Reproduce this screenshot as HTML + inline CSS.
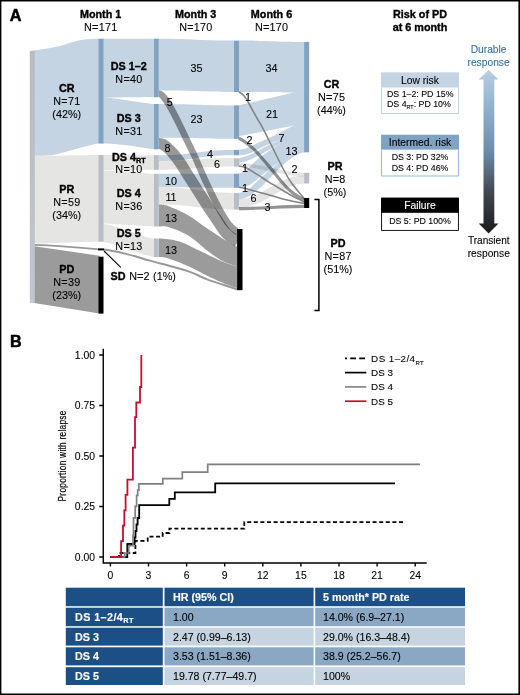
<!DOCTYPE html>
<html lang="en">
<head>
<meta charset="utf-8">
<title>Figure: response over time and risk of PD</title>
<style>
html,body{margin:0;padding:0;background:#fff;}
body{width:520px;height:695px;overflow:hidden;}
svg{display:block;font-family:"Liberation Sans",sans-serif;}
</style>
</head>
<body>
<svg width="520" height="695" viewBox="0 0 520 695">
<rect x="0" y="0" width="520" height="695" fill="#fff"/>
<defs><filter id="soft" x="0" y="0" width="520" height="695" filterUnits="userSpaceOnUse"><feGaussianBlur stdDeviation="0.32"/></filter></defs><g filter="url(#soft)">
<g id="sankey">
<path d="M30.00,50.90 C33.00,50.57 36.07,50.23 39.20,49.80 C42.33,49.37 45.58,48.88 48.80,48.30 C52.02,47.72 55.30,47.08 58.50,46.30 C61.70,45.52 64.80,44.53 68.00,43.60 C71.20,42.67 74.48,41.43 77.70,40.70 C80.92,39.97 83.75,39.53 87.30,39.20 C90.85,38.87 95.67,38.70 99.00,38.70 L99.00,143.60 C95.67,143.60 90.85,145.18 87.30,146.00 C83.75,146.82 80.92,147.62 77.70,148.50 C74.48,149.38 71.20,150.42 68.00,151.30 C64.80,152.18 61.70,153.10 58.50,153.80 C55.30,154.50 53.55,155.13 48.80,155.50 C44.05,155.87 33.00,155.67 30.00,156.00 Z" fill="#c4d4e3"/>
<path d="M32.60,156.00 C52.67,156.00 79.43,155.00 99.50,155.00 L99.50,241.70 C79.43,241.70 52.67,243.60 32.60,243.60 Z" fill="#e5e5e4"/>
<path d="M32.6,246.0 L99.5,255.8 V313.6 L32.6,302.7 Z" fill="#9b9b9b"/>
<path d="M34.6,244.8 C60,245.5 80,247.5 98.5,249.3" fill="none" stroke="#989898" stroke-width="1.7"/>
<path d="M102.50,38.70 C110.38,38.70 147.12,38.70 155.00,38.70 L155.00,97.00 C147.12,97.00 110.38,97.60 102.50,97.60 Z" fill="#c4d4e3"/>
<path d="M102.50,97.30 C110.38,97.30 147.12,104.00 155.00,104.00 L155.00,149.30 C149.75,149.30 123.50,143.60 102.50,143.60 Z" fill="#c4d4e3"/>
<path d="M102.50,155.00 C110.38,155.00 147.12,155.20 155.00,155.20 L155.00,169.80 C147.12,169.80 110.38,170.40 102.50,170.40 Z" fill="#e5e5e4"/>
<path d="M102.50,170.40 C110.38,170.40 147.12,173.80 155.00,173.80 L155.00,226.50 C147.12,226.50 110.38,223.50 102.50,223.50 Z" fill="#e5e5e4"/>
<path d="M102.50,223.70 C110.38,223.70 147.12,238.50 155.00,238.50 L155.00,257.00 C147.12,257.00 110.38,241.70 102.50,241.70 Z" fill="#e5e5e4"/>
<path d="M158.80,38.70 C196.40,38.70 196.40,40.60 234.00,40.60 L234.00,92.00 C196.40,92.00 196.40,90.60 158.80,90.60 Z" fill="#c4d4e3"/>
<path d="M158.80,104.00 C196.40,104.00 196.40,105.40 234.00,105.40 L234.00,138.80 C196.40,138.80 196.40,137.80 158.80,137.80 Z" fill="#c4d4e3"/>
<path d="M158.80,155.20 C196.40,155.20 196.40,149.90 234.00,149.90 L234.00,155.30 C196.40,155.30 196.40,161.00 158.80,161.00 Z" fill="#c4d4e3"/>
<path d="M158.80,161.00 C196.40,161.00 196.40,158.30 234.00,158.30 L234.00,166.60 C196.40,166.60 196.40,169.80 158.80,169.80 Z" fill="#e5e5e4"/>
<path d="M158.80,173.80 C196.40,173.80 196.40,173.70 234.00,173.70 L234.00,187.80 C196.40,187.80 196.40,187.30 158.80,187.30 Z" fill="#c4d4e3"/>
<path d="M158.80,187.30 C196.40,187.30 196.40,192.90 234.00,192.90 L234.00,209.60 C196.40,209.60 196.40,204.60 158.80,204.60 Z" fill="#e5e5e4"/>
<defs><clipPath id="c34"><rect x="239.0" y="30" width="66.10000000000002" height="200"/></clipPath><clipPath id="c23"><rect x="158.8" y="30" width="79.29999999999998" height="280"/></clipPath></defs>
<path d="M239.00,40.60 C271.55,40.60 271.55,41.90 304.10,41.90 L304.10,92.50 C271.55,92.50 271.55,92.00 239.00,92.00 Z" fill="#c4d4e3"/>
<g clip-path="url(#c34)">
<path d="M238.0,105.4 L295,92.2 H304.1 V125.2 H295.5 L239.0,136.2 H238.0 Z" fill="#c4d4e3"/>
<path d="M238.00,149.70 C240.00,149.70 243.13,149.28 245.70,148.50 C248.27,147.72 250.83,146.17 253.40,145.00 C255.97,143.83 258.53,142.67 261.10,141.50 C263.67,140.33 266.23,139.22 268.80,138.00 C271.37,136.78 273.93,135.48 276.50,134.20 C279.07,132.92 281.95,131.42 284.20,130.30 C286.45,129.18 288.08,128.38 290.00,127.50 C291.92,126.62 293.87,125.43 295.70,125.00 C297.53,124.57 299.23,124.93 301.00,124.90 L301.00,134.00 C296.53,135.43 291.68,137.10 287.60,138.30 C283.52,139.50 279.63,140.22 276.50,141.20 C273.37,142.18 271.37,143.12 268.80,144.20 C266.23,145.28 263.67,146.48 261.10,147.70 C258.53,148.92 255.97,150.35 253.40,151.50 C250.83,152.65 248.27,153.95 245.70,154.60 C243.13,155.25 240.00,155.40 238.00,155.40 Z" fill="#c4d4e3"/>
<path d="M238.00,158.10 C240.00,158.10 243.13,157.42 245.70,156.60 C248.27,155.78 250.83,154.48 253.40,153.20 C255.97,151.92 258.53,150.27 261.10,148.90 C263.67,147.53 266.23,146.25 268.80,145.00 C271.37,143.75 273.37,142.68 276.50,141.40 C279.63,140.12 283.52,138.78 287.60,137.30 C291.68,135.82 296.53,134.10 301.00,132.50 L301.00,137.50 C296.53,138.87 291.68,140.20 287.60,141.60 C283.52,143.00 279.63,144.50 276.50,145.90 C273.37,147.30 271.37,148.62 268.80,150.00 C266.23,151.38 263.67,152.85 261.10,154.20 C258.53,155.55 255.97,156.88 253.40,158.10 C250.83,159.32 248.27,160.73 245.70,161.50 C243.13,162.27 240.00,162.70 238.00,162.70 Z" fill="#c4d4e3"/>
<path d="M238.00,173.70 C240.00,173.70 243.13,172.35 245.70,170.60 C248.27,168.85 250.83,165.53 253.40,163.20 C255.97,160.87 258.53,158.63 261.10,156.60 C263.67,154.57 266.23,152.73 268.80,151.00 C271.37,149.27 273.37,147.98 276.50,146.20 C279.63,144.42 283.52,142.08 287.60,140.30 C291.68,138.52 296.53,137.10 301.00,135.50 L301.00,151.00 C298.00,152.50 295.00,154.00 292.00,155.50 C289.00,157.00 285.60,158.58 283.00,160.00 C280.40,161.42 278.63,162.47 276.40,164.00 C274.17,165.53 271.85,167.43 269.60,169.20 C267.35,170.97 265.13,172.80 262.90,174.60 C260.67,176.40 258.43,178.27 256.20,180.00 C253.97,181.73 251.37,183.92 249.50,185.00 C247.63,186.08 246.92,186.12 245.00,186.50 C243.08,186.88 240.00,187.30 238.00,187.30 Z" fill="#c4d4e3"/>
<path d="M238.00,192.90 C240.00,192.90 243.08,191.95 245.00,191.20 C246.92,190.45 247.63,189.90 249.50,188.40 C251.37,186.90 253.97,184.27 256.20,182.20 C258.43,180.13 260.67,178.00 262.90,176.00 C265.13,174.00 267.35,172.13 269.60,170.20 C271.85,168.27 274.17,166.27 276.40,164.40 C278.63,162.53 280.40,160.82 283.00,159.00 C285.60,157.18 289.00,155.17 292.00,153.50 C295.00,151.83 298.00,150.50 301.00,149.00 L305.00,152.30 C303.67,152.53 302.92,152.25 301.00,153.00 C299.08,153.75 296.17,155.08 293.50,156.80 C290.83,158.52 287.55,161.18 285.00,163.30 C282.45,165.42 280.62,167.13 278.20,169.50 C275.78,171.87 273.07,174.85 270.50,177.50 C267.93,180.15 265.38,182.98 262.80,185.40 C260.22,187.82 257.57,190.08 255.00,192.00 C252.43,193.92 250.23,195.70 247.40,196.90 C244.57,198.10 240.00,199.20 238.00,199.20 Z" fill="#c4d4e3"/>
<rect x="295.50" y="92.00" width="9.50" height="60.30" fill="#c4d4e3"/>
<path d="M239.00,164.70 C258.53,164.70 284.57,174.60 304.10,174.60" fill="none" stroke="#000" stroke-width="3.8" stroke-opacity="0.1"/>
<path d="M239.00,203.30 C265.04,203.30 278.06,179.60 304.10,179.60" fill="none" stroke="#000" stroke-width="8.4" stroke-opacity="0.1"/>
<path d="M239.00,208.60 C258.53,208.60 284.57,206.40 304.10,206.40" fill="none" stroke="#000" stroke-width="3.1" stroke-opacity="0.42"/>
</g>
<g clip-path="url(#c23)">
<path d="M158.80,204.60 C162.80,204.60 164.25,204.70 169.20,206.50 C174.15,208.30 182.08,211.68 188.50,215.40 C194.92,219.12 201.30,224.48 207.70,228.80 C214.10,233.12 221.93,238.27 226.90,241.30 C231.87,244.33 233.97,245.10 237.50,247.00 L237.5,266.6 237.50,266.60 C232.67,264.83 227.97,263.90 223.00,261.30 C218.03,258.70 213.45,255.28 207.70,251.00 C201.95,246.72 194.92,239.57 188.50,235.60 C182.08,231.63 174.15,228.72 169.20,227.20 C164.25,225.68 162.80,226.50 158.80,226.50 Z" fill="#9b9b9b"/>
<path d="M158.80,238.50 C163.47,238.50 172.27,239.38 178.80,241.30 C185.33,243.22 190.63,246.60 198.00,250.00 C205.37,253.40 216.42,258.97 223.00,261.70 C229.58,264.43 232.67,264.83 237.50,266.40 L237.5,288.4 237.50,288.40 C233.97,287.13 231.87,286.67 226.90,284.60 C221.93,282.53 214.10,279.05 207.70,276.00 C201.30,272.95 194.92,269.18 188.50,266.30 C182.08,263.42 174.15,260.25 169.20,258.70 C164.25,257.15 162.80,257.00 158.80,257.00 Z" fill="#9b9b9b"/>
<path d="M158.80,93.80 C161.80,93.80 162.33,95.72 164.30,98.00 C166.27,100.28 168.12,103.17 170.60,107.50 C173.08,111.83 176.42,118.42 179.20,124.00 C181.98,129.58 184.70,135.58 187.30,141.00 C189.90,146.42 192.10,150.58 194.80,156.50 C197.50,162.42 200.58,170.03 203.50,176.50 C206.42,182.97 209.50,189.58 212.30,195.30 C215.10,201.02 217.52,205.93 220.30,210.80 C223.08,215.67 226.05,220.87 229.00,224.50 C231.95,228.13 235.00,229.90 238.00,232.60" fill="none" stroke="#000" stroke-width="6.6" stroke-opacity="0.4"/>
<path d="M158.80,143.50 C162.80,143.50 163.55,144.75 166.00,146.50 C168.45,148.25 171.17,151.33 173.50,154.00 C175.83,156.67 177.58,158.97 180.00,162.50 C182.42,166.03 184.83,170.20 188.00,175.20 C191.17,180.20 195.58,187.12 199.00,192.50 C202.42,197.88 205.67,203.17 208.50,207.50 C211.33,211.83 213.00,214.15 216.00,218.50 C219.00,222.85 222.83,229.75 226.50,233.60 C230.17,237.45 234.17,238.93 238.00,241.60" fill="none" stroke="#000" stroke-width="11.2" stroke-opacity="0.4"/>
</g>
<path d="M103.50,249.50 C110.17,250.17 117.25,251.75 125.00,253.60 C132.75,255.45 139.42,257.63 150.00,260.60 C160.58,263.57 178.88,268.23 188.50,271.40 C198.12,274.57 199.58,276.60 207.70,279.60 C215.82,282.60 227.37,286.13 237.20,289.40" fill="none" stroke="#989898" stroke-width="2.0"/>
<path d="M238.80,92.00 C240.47,92.33 242.67,94.30 244.40,96.30 C246.13,98.30 247.43,100.95 249.20,104.00 C250.97,107.05 252.92,110.90 255.00,114.60 C257.08,118.30 259.40,121.97 261.70,126.20 C264.00,130.43 265.33,133.12 268.80,140.00 C272.27,146.88 278.80,160.45 282.50,167.50 C286.20,174.55 287.30,177.00 291.00,182.30 C294.70,187.60 300.13,193.63 304.70,199.30" fill="none" stroke="#828282" stroke-width="1.55"/>
<path d="M238.80,138.30 C242.13,139.63 248.20,144.28 251.90,147.40 C255.60,150.52 257.83,153.47 261.00,157.00 C264.17,160.53 266.25,163.15 270.90,168.60 C275.55,174.05 283.27,184.33 288.90,189.70 C294.53,195.07 299.43,197.10 304.70,200.80" fill="none" stroke="#000" stroke-width="3.2" stroke-opacity="0.42"/>
<path d="M238.80,165.90 C241.13,166.23 243.53,166.58 246.60,168.00 C249.67,169.42 253.68,172.18 257.20,174.40 C260.72,176.62 264.18,179.10 267.70,181.30 C271.22,183.50 274.77,185.48 278.30,187.60 C281.83,189.72 284.50,191.55 288.90,194.00 C293.30,196.45 299.43,199.53 304.70,202.30" fill="none" stroke="#828282" stroke-width="1.55"/>
<path d="M238.80,187.30 C241.13,187.63 243.53,187.95 246.60,188.70 C249.67,189.45 253.68,190.83 257.20,191.80 C260.72,192.77 263.07,193.22 267.70,194.50 C272.33,195.78 278.83,197.98 285.00,199.50 C291.17,201.02 298.13,202.23 304.70,203.60" fill="none" stroke="#828282" stroke-width="1.55"/>
<defs><linearGradient id="lb" x1="0" y1="0" x2="0" y2="1"><stop offset="0" stop-color="#b8bbc0"/><stop offset="1" stop-color="#c1c7cd"/></linearGradient></defs>
<rect x="29.80" y="51.00" width="5.00" height="251.80" fill="url(#lb)"/>
<rect x="98.50" y="38.70" width="5.00" height="104.90" fill="#80a3c4"/>
<rect x="98.50" y="155.00" width="5.00" height="86.70" fill="#b9bec6"/>
<rect x="98.00" y="248.40" width="6.00" height="2.00" fill="#000"/>
<rect x="98.50" y="256.70" width="5.00" height="56.90" fill="#000"/>
<rect x="154.00" y="38.70" width="4.80" height="58.50" fill="#80a3c4"/>
<rect x="154.00" y="104.00" width="4.80" height="45.30" fill="#80a3c4"/>
<rect x="154.00" y="155.20" width="4.80" height="14.60" fill="#b9bec6"/>
<rect x="154.00" y="173.80" width="4.80" height="52.70" fill="#b9bec6"/>
<rect x="154.00" y="238.50" width="4.80" height="18.50" fill="#b9bec6"/>
<rect x="234.00" y="40.60" width="5.00" height="51.40" fill="#80a3c4"/>
<rect x="234.00" y="105.40" width="5.00" height="33.40" fill="#80a3c4"/>
<rect x="234.00" y="149.90" width="5.00" height="5.40" fill="#80a3c4"/>
<rect x="234.00" y="158.30" width="5.00" height="8.30" fill="#b9bec6"/>
<rect x="234.00" y="173.70" width="5.00" height="14.10" fill="#80a3c4"/>
<rect x="234.00" y="192.90" width="5.00" height="16.70" fill="#b9bec6"/>
<rect x="237.10" y="229.00" width="5.40" height="61.20" fill="#000"/>
<rect x="304.10" y="41.90" width="5.10" height="110.40" fill="#80a3c4"/>
<rect x="304.10" y="172.80" width="5.10" height="10.70" fill="#b9bec6"/>
<rect x="304.10" y="198.00" width="5.10" height="10.00" fill="#000"/>
<path d="M104,251 L120.8,267.3" fill="none" stroke="#000" stroke-width="1.1"/>
<path d="M314.4,199.6 H318.9 V310.4 H314.4" fill="none" stroke="#000" stroke-width="1.5"/>
</g>
<g id="labelsA">
<text x="9.70" y="21.10" font-size="16.2" font-weight="bold" text-anchor="start" fill="#000" stroke="#000" stroke-width="0.5">A</text>
<text x="100.60" y="17.80" font-size="10.8" font-weight="bold" text-anchor="middle" fill="#000" stroke="#000" stroke-width="0.35">Month 1</text>
<text x="100.75" y="30.50" font-size="10.8" text-anchor="middle" fill="#000" stroke="#000" stroke-width="0.1" letter-spacing="0.25">N=171</text>
<text x="195.70" y="17.80" font-size="10.8" font-weight="bold" text-anchor="middle" fill="#000" stroke="#000" stroke-width="0.35">Month 3</text>
<text x="195.85" y="30.50" font-size="10.8" text-anchor="middle" fill="#000" stroke="#000" stroke-width="0.1" letter-spacing="0.25">N=170</text>
<text x="271.50" y="17.80" font-size="10.8" font-weight="bold" text-anchor="middle" fill="#000" stroke="#000" stroke-width="0.35">Month 6</text>
<text x="271.65" y="30.50" font-size="10.8" text-anchor="middle" fill="#000" stroke="#000" stroke-width="0.1" letter-spacing="0.25">N=170</text>
<text x="66.70" y="91.90" font-size="10.8" font-weight="bold" text-anchor="middle" fill="#000" stroke="#000" stroke-width="0.35">CR</text>
<text x="66.85" y="104.90" font-size="10.8" text-anchor="middle" fill="#000" stroke="#000" stroke-width="0.1" letter-spacing="0.3">N=71</text>
<text x="66.70" y="117.90" font-size="10.8" text-anchor="middle" fill="#000" stroke="#000" stroke-width="0.1">(42%)</text>
<text x="66.70" y="193.00" font-size="10.8" font-weight="bold" text-anchor="middle" fill="#000" stroke="#000" stroke-width="0.35">PR</text>
<text x="66.85" y="206.00" font-size="10.8" text-anchor="middle" fill="#000" stroke="#000" stroke-width="0.1" letter-spacing="0.3">N=59</text>
<text x="66.70" y="219.00" font-size="10.8" text-anchor="middle" fill="#000" stroke="#000" stroke-width="0.1">(34%)</text>
<text x="66.70" y="273.00" font-size="10.8" font-weight="bold" text-anchor="middle" fill="#000" stroke="#000" stroke-width="0.35">PD</text>
<text x="66.85" y="286.00" font-size="10.8" text-anchor="middle" fill="#000" stroke="#000" stroke-width="0.1" letter-spacing="0.3">N=39</text>
<text x="66.70" y="299.00" font-size="10.8" text-anchor="middle" fill="#000" stroke="#000" stroke-width="0.1">(23%)</text>
<text x="128.80" y="69.50" font-size="10.8" font-weight="bold" text-anchor="middle" fill="#000" stroke="#000" stroke-width="0.35">DS 1–2</text>
<text x="128.95" y="82.50" font-size="10.8" text-anchor="middle" fill="#000" stroke="#000" stroke-width="0.1" letter-spacing="0.3">N=40</text>
<text x="128.80" y="122.00" font-size="10.8" font-weight="bold" text-anchor="middle" fill="#000" stroke="#000" stroke-width="0.35">DS 3</text>
<text x="128.95" y="135.00" font-size="10.8" text-anchor="middle" fill="#000" stroke="#000" stroke-width="0.1" letter-spacing="0.3">N=31</text>
<text x="128.80" y="160.50" font-size="10.8" font-weight="bold" text-anchor="middle" fill="#000" stroke="#000" stroke-width="0.35">DS 4<tspan font-size="7.2" dy="2.4">RT</tspan></text>
<text x="128.95" y="173.40" font-size="10.8" text-anchor="middle" fill="#000" stroke="#000" stroke-width="0.1" letter-spacing="0.3">N=10</text>
<text x="128.80" y="196.50" font-size="10.8" font-weight="bold" text-anchor="middle" fill="#000" stroke="#000" stroke-width="0.35">DS 4</text>
<text x="128.95" y="209.50" font-size="10.8" text-anchor="middle" fill="#000" stroke="#000" stroke-width="0.1" letter-spacing="0.3">N=36</text>
<text x="128.80" y="236.50" font-size="10.8" font-weight="bold" text-anchor="middle" fill="#000" stroke="#000" stroke-width="0.35">DS 5</text>
<text x="128.95" y="249.50" font-size="10.8" text-anchor="middle" fill="#000" stroke="#000" stroke-width="0.1" letter-spacing="0.3">N=13</text>
<text x="110.60" y="279.90" font-size="10.8" text-anchor="start" fill="#000" stroke="#000" stroke-width="0.1" word-spacing="0.7"><tspan font-weight="bold" stroke-width="0.35">SD</tspan> N=2 (1%)</text>
<text x="331.50" y="87.70" font-size="10.8" font-weight="bold" text-anchor="middle" fill="#000" stroke="#000" stroke-width="0.35">CR</text>
<text x="331.65" y="100.70" font-size="10.8" text-anchor="middle" fill="#000" stroke="#000" stroke-width="0.1" letter-spacing="0.3">N=75</text>
<text x="331.50" y="113.70" font-size="10.8" text-anchor="middle" fill="#000" stroke="#000" stroke-width="0.1">(44%)</text>
<text x="335.00" y="170.00" font-size="10.8" font-weight="bold" text-anchor="middle" fill="#000" stroke="#000" stroke-width="0.35">PR</text>
<text x="335.15" y="183.00" font-size="10.8" text-anchor="middle" fill="#000" stroke="#000" stroke-width="0.1" letter-spacing="0.3">N=8</text>
<text x="335.00" y="196.00" font-size="10.8" text-anchor="middle" fill="#000" stroke="#000" stroke-width="0.1">(5%)</text>
<text x="338.00" y="246.50" font-size="10.8" font-weight="bold" text-anchor="middle" fill="#000" stroke="#000" stroke-width="0.35">PD</text>
<text x="338.15" y="259.50" font-size="10.8" text-anchor="middle" fill="#000" stroke="#000" stroke-width="0.1" letter-spacing="0.3">N=87</text>
<text x="338.00" y="272.50" font-size="10.8" text-anchor="middle" fill="#000" stroke="#000" stroke-width="0.1">(51%)</text>
<text x="196.50" y="71.50" font-size="10.8" text-anchor="middle" fill="#000" stroke="#000" stroke-width="0.1">35</text>
<text x="196.50" y="123.00" font-size="10.8" text-anchor="middle" fill="#000" stroke="#000" stroke-width="0.1">23</text>
<text x="169.80" y="106.30" font-size="10.8" text-anchor="middle" fill="#000" stroke="#000" stroke-width="0.1">5</text>
<text x="167.50" y="151.50" font-size="10.8" text-anchor="middle" fill="#000" stroke="#000" stroke-width="0.1">8</text>
<text x="210.00" y="157.50" font-size="10.8" text-anchor="middle" fill="#000" stroke="#000" stroke-width="0.1">4</text>
<text x="217.00" y="167.50" font-size="10.8" text-anchor="middle" fill="#000" stroke="#000" stroke-width="0.1">6</text>
<text x="171.00" y="185.00" font-size="10.8" text-anchor="middle" fill="#000" stroke="#000" stroke-width="0.1">10</text>
<text x="171.00" y="201.00" font-size="10.8" text-anchor="middle" fill="#000" stroke="#000" stroke-width="0.1">11</text>
<text x="171.00" y="221.50" font-size="10.8" text-anchor="middle" fill="#000" stroke="#000" stroke-width="0.1">13</text>
<text x="171.00" y="253.50" font-size="10.8" text-anchor="middle" fill="#000" stroke="#000" stroke-width="0.1">13</text>
<text x="271.50" y="71.50" font-size="10.8" text-anchor="middle" fill="#000" stroke="#000" stroke-width="0.1">34</text>
<text x="272.00" y="118.00" font-size="10.8" text-anchor="middle" fill="#000" stroke="#000" stroke-width="0.1">21</text>
<text x="248.00" y="100.50" font-size="10.8" text-anchor="middle" fill="#000" stroke="#000" stroke-width="0.1">1</text>
<text x="249.50" y="144.00" font-size="10.8" text-anchor="middle" fill="#000" stroke="#000" stroke-width="0.1">2</text>
<text x="281.60" y="141.50" font-size="10.8" text-anchor="middle" fill="#000" stroke="#000" stroke-width="0.1">7</text>
<text x="291.50" y="154.50" font-size="10.8" text-anchor="middle" fill="#000" stroke="#000" stroke-width="0.1">13</text>
<text x="245.00" y="172.00" font-size="10.8" text-anchor="middle" fill="#000" stroke="#000" stroke-width="0.1">1</text>
<text x="245.00" y="191.50" font-size="10.8" text-anchor="middle" fill="#000" stroke="#000" stroke-width="0.1">1</text>
<text x="294.50" y="173.00" font-size="10.8" text-anchor="middle" fill="#000" stroke="#000" stroke-width="0.1">2</text>
<text x="253.50" y="202.00" font-size="10.8" text-anchor="middle" fill="#000" stroke="#000" stroke-width="0.1">6</text>
<text x="267.50" y="211.00" font-size="10.8" text-anchor="middle" fill="#000" stroke="#000" stroke-width="0.1">3</text>
</g>
<g id="risk">
<text x="420.00" y="17.90" font-size="10.8" font-weight="bold" text-anchor="middle" fill="#000" stroke="#000" stroke-width="0.35">Risk of PD</text>
<text x="420.00" y="30.90" font-size="10.8" font-weight="bold" text-anchor="middle" fill="#000" stroke="#000" stroke-width="0.35">at 6 month</text>
<text x="488.60" y="52.50" font-size="10.25" text-anchor="middle" fill="#386ea2" stroke="#386ea2" stroke-width="0.1">Durable</text>
<text x="488.60" y="65.60" font-size="10.25" text-anchor="middle" fill="#386ea2" stroke="#386ea2" stroke-width="0.1">response</text>
<text x="488.80" y="243.90" font-size="10.1" text-anchor="middle" fill="#000" stroke="#000" stroke-width="0.1">Transient</text>
<text x="488.80" y="256.90" font-size="10.25" text-anchor="middle" fill="#000" stroke="#000" stroke-width="0.1">response</text>
<rect x="381.60" y="73.10" width="76.80" height="40.40" fill="#fff" stroke="#b9cde0" stroke-width="0.9"/>
<rect x="381.15" y="72.65" width="77.70" height="14.85" fill="#c4d4e3"/>
<text x="420.00" y="83.60" font-size="10.3" text-anchor="middle" fill="#000" stroke="#000" stroke-width="0.1">Low risk</text>
<text x="387.00" y="97.00" font-size="8.8" text-anchor="start" fill="#000" stroke="#000" stroke-width="0.1">DS 1–2: PD 15%</text>
<text x="387.00" y="107.40" font-size="8.8" text-anchor="start" fill="#000" stroke="#000" stroke-width="0.1">DS 4<tspan font-size="5.4" dy="1.8">RT</tspan><tspan dy="-1.8">: PD 10%</tspan></text>
<rect x="381.60" y="135.30" width="76.80" height="40.70" fill="#fff" stroke="#8fb0cf" stroke-width="0.9"/>
<rect x="381.15" y="134.85" width="77.70" height="14.75" fill="#80a3c4"/>
<text x="420.00" y="145.70" font-size="10.3" text-anchor="middle" fill="#000" stroke="#000" stroke-width="0.1">Intermed. risk</text>
<text x="420.00" y="160.40" font-size="8.8" text-anchor="middle" fill="#000" stroke="#000" stroke-width="0.1">DS 3: PD 32%</text>
<text x="420.00" y="170.80" font-size="8.8" text-anchor="middle" fill="#000" stroke="#000" stroke-width="0.1">DS 4: PD 46%</text>
<rect x="381.60" y="198.20" width="76.80" height="32.20" fill="#fff" stroke="#000" stroke-width="0.9"/>
<rect x="381.15" y="197.75" width="77.70" height="15.05" fill="#000"/>
<text x="420.00" y="208.90" font-size="10.3" text-anchor="middle" fill="#fff" stroke="#fff" stroke-width="0.12">Failure</text>
<text x="420.00" y="224.20" font-size="8.8" text-anchor="middle" fill="#000" stroke="#000" stroke-width="0.1">DS 5: PD 100%</text>
<defs><linearGradient id="ag" x1="0" y1="0" x2="0" y2="1"><stop offset="0" stop-color="#b8cee2"/><stop offset="0.25" stop-color="#8eaecb"/><stop offset="0.5" stop-color="#6c8caa"/><stop offset="0.75" stop-color="#42474f"/><stop offset="1" stop-color="#1b1b1d"/></linearGradient></defs>
<path d="M488.6,70.0 L498.5,79.6 H494.3 V223.4 H498.5 L488.6,233.5 L478.7,223.4 H483.5 V79.6 H478.7 Z" fill="url(#ag)"/>
</g>
<g id="km">
<text x="9.90" y="347.00" font-size="16.2" font-weight="bold" text-anchor="start" fill="#000" stroke="#000" stroke-width="0.5">B</text>
<path d="M103.25,348.7 V563.0 H426.7" fill="none" stroke="#000" stroke-width="1.4"/>
<text x="95.10" y="560.60" font-size="10.4" text-anchor="end" fill="#000" stroke="#000" stroke-width="0.1">0.00</text>
<text x="95.10" y="510.10" font-size="10.4" text-anchor="end" fill="#000" stroke="#000" stroke-width="0.1">0.25</text>
<text x="95.10" y="459.60" font-size="10.4" text-anchor="end" fill="#000" stroke="#000" stroke-width="0.1">0.50</text>
<text x="95.10" y="409.10" font-size="10.4" text-anchor="end" fill="#000" stroke="#000" stroke-width="0.1">0.75</text>
<text x="95.10" y="358.60" font-size="10.4" text-anchor="end" fill="#000" stroke="#000" stroke-width="0.1">1.00</text>
<text x="110.40" y="578.60" font-size="10.4" text-anchor="middle" fill="#000" stroke="#000" stroke-width="0.1">0</text>
<text x="148.50" y="578.60" font-size="10.4" text-anchor="middle" fill="#000" stroke="#000" stroke-width="0.1">3</text>
<text x="186.60" y="578.60" font-size="10.4" text-anchor="middle" fill="#000" stroke="#000" stroke-width="0.1">6</text>
<text x="224.70" y="578.60" font-size="10.4" text-anchor="middle" fill="#000" stroke="#000" stroke-width="0.1">9</text>
<text x="262.80" y="578.60" font-size="10.4" text-anchor="middle" fill="#000" stroke="#000" stroke-width="0.1">12</text>
<text x="300.90" y="578.60" font-size="10.4" text-anchor="middle" fill="#000" stroke="#000" stroke-width="0.1">15</text>
<text x="339.00" y="578.60" font-size="10.4" text-anchor="middle" fill="#000" stroke="#000" stroke-width="0.1">18</text>
<text x="377.10" y="578.60" font-size="10.4" text-anchor="middle" fill="#000" stroke="#000" stroke-width="0.1">21</text>
<text x="415.20" y="578.60" font-size="10.4" text-anchor="middle" fill="#000" stroke="#000" stroke-width="0.1">24</text>
<path d="M99.25,557.00 H103.25 M99.25,506.50 H103.25 M99.25,456.00 H103.25 M99.25,405.50 H103.25 M99.25,355.00 H103.25 M110.40,563.0 V566.4 M148.50,563.0 V566.4 M186.60,563.0 V566.4 M224.70,563.0 V566.4 M262.80,563.0 V566.4 M300.90,563.0 V566.4 M339.00,563.0 V566.4 M377.10,563.0 V566.4 M415.20,563.0 V566.4 " fill="none" stroke="#000" stroke-width="1.4"/>
<text transform="translate(66.3,455.9) rotate(-90) scale(0.72,1)" font-size="11.6" letter-spacing="0.35" text-anchor="middle" fill="#000" stroke="#000" stroke-width="0.2">Proportion with relapse</text>
<path d="M110.4,557 H119 V553 H135.4 V540.8 H147.7 V536.7 H162.7 V533 H169.4 V528.6 H244.3 V522.2 H405.4" fill="none" stroke="#000" stroke-width="1.8" stroke-dasharray="4 2.6"/>
<path d="M110.4,557 H127.3 V544 H134.6 V537.5 H135.5 V531 H136.5 V524.5 H137.6 V518 H139.2 V505.2 H169.3 V498.8 H174.8 V492.3 H215.2 V483.4 H395" fill="none" stroke="#000" stroke-width="1.8"/>
<path d="M121,557 H124.8 V553 H128.7 V545.6 H133 V535.4 H133.5 V517.9 H135.2 V506.3 H136.6 V495.4 H137.7 V490.2 H138.9 V483.9 H162.8 V478.6 H182.3 V472.2 H207.7 V464.3 H420" fill="none" stroke="#808080" stroke-width="1.7"/>
<path d="M110.4,557 H121.1 V541.2 H123 V525.6 H124.3 V510.4 H125.6 V494.8 H127.4 V479.6 H132.9 V447.7 H135 V417.2 H136.3 V402.5 H140 V387 H141.3 V355" fill="none" stroke="#c8102e" stroke-width="1.8"/>
<path d="M345,358.3 H366.3" fill="none" stroke="#000" stroke-width="1.7" stroke-dasharray="5.8 3.2" stroke-dashoffset="3.8"/>
<path d="M345,372.6 H366.3" fill="none" stroke="#000" stroke-width="1.7"/>
<path d="M345,386.9 H366.3" fill="none" stroke="#808080" stroke-width="1.6"/>
<path d="M345,401.2 H366.3" fill="none" stroke="#c8102e" stroke-width="1.7"/>
<text x="371.10" y="361.70" font-size="9.9" text-anchor="start" fill="#000" stroke="#000" stroke-width="0.1" letter-spacing="0.4">DS 1–2/4<tspan font-size="6.0" dy="2.8">RT</tspan></text>
<text x="371.10" y="376.00" font-size="9.9" text-anchor="start" fill="#000" stroke="#000" stroke-width="0.1">DS 3</text>
<text x="371.10" y="390.30" font-size="9.9" text-anchor="start" fill="#000" stroke="#000" stroke-width="0.1">DS 4</text>
<text x="371.10" y="404.60" font-size="9.9" text-anchor="start" fill="#000" stroke="#000" stroke-width="0.1">DS 5</text>
</g>
<g id="table">
<rect x="65.80" y="587.70" width="97.00" height="18.50" fill="#1a4f86"/>
<rect x="164.50" y="587.70" width="149.10" height="18.50" fill="#1a4f86"/>
<rect x="315.20" y="587.70" width="149.80" height="18.50" fill="#1a4f86"/>
<rect x="65.80" y="607.70" width="97.00" height="18.50" fill="#1a4f86"/>
<rect x="164.50" y="607.70" width="149.10" height="18.50" fill="#8aa7c4"/>
<rect x="315.20" y="607.70" width="149.80" height="18.50" fill="#8aa7c4"/>
<rect x="65.80" y="627.70" width="97.00" height="17.90" fill="#1a4f86"/>
<rect x="164.50" y="627.70" width="149.10" height="17.90" fill="#c6d4e2"/>
<rect x="315.20" y="627.70" width="149.80" height="17.90" fill="#c6d4e2"/>
<rect x="65.80" y="647.30" width="97.00" height="18.10" fill="#1a4f86"/>
<rect x="164.50" y="647.30" width="149.10" height="18.10" fill="#8aa7c4"/>
<rect x="315.20" y="647.30" width="149.80" height="18.10" fill="#8aa7c4"/>
<rect x="65.80" y="667.20" width="97.00" height="17.80" fill="#1a4f86"/>
<rect x="164.50" y="667.20" width="149.10" height="17.80" fill="#c6d4e2"/>
<rect x="315.20" y="667.20" width="149.80" height="17.80" fill="#c6d4e2"/>
<text transform="translate(173.00,600.80) scale(1.045,1)" font-size="10.3" font-weight="bold" text-anchor="start" fill="#fff" stroke="#fff" stroke-width="0.12">HR (95% CI)</text>
<text transform="translate(323.00,600.80) scale(1.045,1)" font-size="10.3" font-weight="bold" text-anchor="start" fill="#fff" stroke="#fff" stroke-width="0.12">5 month* PD rate</text>
<text x="75.00" y="620.60" font-size="10.8" font-weight="bold" text-anchor="start" fill="#fff" stroke="#fff" stroke-width="0.12" letter-spacing="0.4">DS 1–2/4<tspan font-size="7.4" dy="2.3">RT</tspan></text>
<text transform="translate(173.00,620.60) scale(1.03,1)" font-size="10.3" text-anchor="start" fill="#000" stroke="#000" stroke-width="0.1">1.00</text>
<text transform="translate(323.00,620.60) scale(1.03,1)" font-size="10.3" text-anchor="start" fill="#000" stroke="#000" stroke-width="0.1">14.0% (6.9–27.1)</text>
<text x="75.00" y="640.60" font-size="10.8" font-weight="bold" text-anchor="start" fill="#fff" stroke="#fff" stroke-width="0.12">DS 3</text>
<text transform="translate(173.00,640.60) scale(1.03,1)" font-size="10.3" text-anchor="start" fill="#000" stroke="#000" stroke-width="0.1">2.47 (0.99–6.13)</text>
<text transform="translate(323.00,640.60) scale(1.03,1)" font-size="10.3" text-anchor="start" fill="#000" stroke="#000" stroke-width="0.1">29.0% (16.3–48.4)</text>
<text x="75.00" y="660.30" font-size="10.8" font-weight="bold" text-anchor="start" fill="#fff" stroke="#fff" stroke-width="0.12">DS 4</text>
<text transform="translate(173.00,660.30) scale(1.03,1)" font-size="10.3" text-anchor="start" fill="#000" stroke="#000" stroke-width="0.1">3.53 (1.51–8.36)</text>
<text transform="translate(323.00,660.30) scale(1.03,1)" font-size="10.3" text-anchor="start" fill="#000" stroke="#000" stroke-width="0.1">38.9 (25.2–56.7)</text>
<text x="75.00" y="680.20" font-size="10.8" font-weight="bold" text-anchor="start" fill="#fff" stroke="#fff" stroke-width="0.12">DS 5</text>
<text transform="translate(173.00,680.20) scale(1.03,1)" font-size="10.3" text-anchor="start" fill="#000" stroke="#000" stroke-width="0.1">19.78 (7.77–49.7)</text>
<text transform="translate(323.00,680.20) scale(1.03,1)" font-size="10.3" text-anchor="start" fill="#000" stroke="#000" stroke-width="0.1">100%</text>
</g>
</g>
<path d="M0,0 H520 V695 H0 Z M1.4,1.4 V693.5 H518.4 V1.4 Z" fill="#000" fill-rule="evenodd"/>
</svg>
</body>
</html>
